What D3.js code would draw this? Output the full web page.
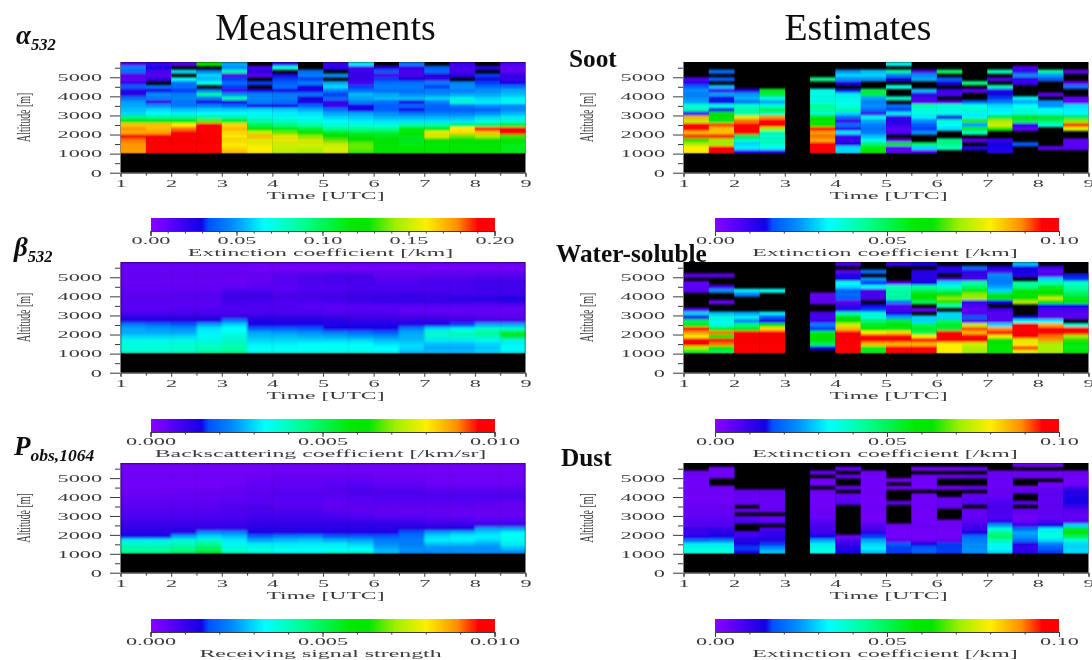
<!DOCTYPE html>
<html><head><meta charset="utf-8">
<style>html,body{margin:0;background:#fff}svg{display:block}text{font-family:"Liberation Serif",serif}</style>
<script src="https://cdn.jsdelivr.net/npm/d3@7"></script></head><body><svg id="c" width="1092" height="660"></svg>
<script>
const _=null;
// Cell values are % of each colour bar's range; null = no data (black). Each list is one half-hour column, top altitude bin first.
const hours=[1,1.5,2,2.5,3,3.5,4,4.5,5,5.5,6,6.5,7,7.5,8,8.5];
const altitudes=[5600,5400,5200,5000,4800,4600,4400,4200,4000,3800,3600,3400,3200,3000,2800,2600,2400,2200,2000,1800,1600,1400,1200,1000];
const alpha532=[
[6,22,20,6,5,10,18,12,12,20,25,26,28,30,46,56,84,88,86,96,90,88,88,87],
[10,14,8,6,10,_,20,14,24,22,10,24,30,33,44,56,84,85,87,96,97,97,97,95],
[6,_,30,_,34,20,20,16,22,23,21,21,28,32,44,56,80,90,96,97,97,97,97,95],
[58,_,22,30,28,34,_,22,42,22,14,22,29,33,42,68,97,97,97,97,97,97,97,97],
[26,24,40,8,16,20,16,10,24,40,14,19,29,33,42,54,82,85,82,80,82,80,82,84],
[_,8,12,6,_,16,_,14,23,23,22,14,30,33,36,42,50,60,75,84,78,78,80,80],
[10,36,_,14,16,18,20,14,22,22,20,14,29,32,34,38,46,56,68,78,78,76,74,74],
[_,_,20,22,16,22,14,14,22,14,14,19,26,31,33,36,42,53,60,70,76,76,74,72],
[10,12,_,24,_,26,30,22,16,20,10,10,20,26,30,33,37,44,55,62,68,74,76,76],
[32,8,10,10,10,8,16,20,28,26,22,13,14,26,29,32,37,44,52,58,60,68,68,66],
[_,12,18,8,16,20,22,20,26,28,20,18,18,24,27,31,36,44,52,56,58,60,60,60],
[22,10,8,8,14,20,22,20,24,28,13,19,14,21,27,31,42,58,58,56,55,56,58,60],
[_,18,20,12,10,22,16,22,24,30,22,19,18,22,27,31,43,55,78,76,60,58,58,58],
[10,8,8,12,_,22,24,22,26,32,38,21,18,22,27,31,48,80,82,68,62,60,60,60],
[_,12,_,16,14,16,20,24,26,30,32,24,18,24,30,36,48,97,84,72,62,60,60,60],
[8,5,5,10,10,14,20,26,28,32,34,23,23,27,32,38,53,97,97,66,58,56,56,56]];
const beta532=[
[4,4,4,4,4,4,5,5,5,6,6,6,6,8,11,13,22,26,26,30,34,36,36,38],
[4,4,4,4,4,4,5,5,5,6,6,6,6,8,11,13,20,25,26,30,34,36,37,38],
[4,4,4,4,4,4,5,5,6,6,6,6,7,8,11,13,18,24,26,30,34,37,38,39],
[4,4,4,4,4,4,5,5,6,6,6,6,7,8,11,13,26,31,32,33,35,38,40,42],
[4,4,4,4,4,4,5,7,9,9,9,7,7,8,11,22,30,33,35,36,38,40,42,44],
[3,3,3,4,4,5,6,7,9,9,8,7,7,8,11,13,14,18,26,28,30,32,34,34],
[3,3,4,6,6,6,6,6,7,7,7,7,7,8,11,13,13,18,25,28,30,32,34,34],
[3,3,4,7,7,7,7,7,8,8,7,6,7,8,11,13,13,17,24,27,30,33,34,34],
[3,3,4,8,8,8,7,8,8,9,8,6,6,7,10,12,13,14,22,26,30,33,35,34],
[3,3,4,8,8,8,8,8,9,10,9,6,6,7,9,11,13,13,20,25,30,33,34,34],
[3,3,4,5,6,7,8,8,9,10,10,6,6,7,9,11,13,13,18,24,28,31,33,33],
[3,3,4,5,6,7,8,8,10,10,10,6,5,6,8,11,13,22,26,27,28,30,30,28],
[3,3,4,5,7,8,8,8,9,10,10,6,5,6,8,11,14,30,38,37,32,28,26,28],
[3,3,4,5,7,8,8,8,9,11,10,6,5,5,7,10,16,32,40,38,32,28,26,28],
[3,3,4,6,8,9,9,9,9,12,10,6,5,5,6,9,26,38,44,40,34,30,28,30],
[3,3,4,6,8,9,9,9,9,13,11,6,4,5,5,9,26,38,55,55,36,32,34,32]];
const pObs1064=[
[3,3,3,3,3,3,3,3,4,5,5,6,6,7,8,9,10,11,12,14,34,38,42,44],
[3,3,3,3,3,3,3,3,4,5,5,6,6,7,8,9,10,11,12,14,34,38,42,44],
[3,3,3,3,3,3,3,4,4,5,5,6,6,7,8,9,10,11,13,26,36,40,44,47],
[3,3,3,3,3,3,3,4,4,5,5,6,6,7,8,9,10,11,24,30,38,44,48,54],
[3,3,3,3,3,4,4,4,5,5,6,6,7,7,8,9,10,11,23,28,32,34,36,40],
[3,3,3,3,4,5,5,5,6,6,6,7,7,8,9,10,11,12,14,19,26,32,36,36],
[3,3,3,4,5,5,5,6,6,6,6,6,7,8,9,10,11,12,13,22,28,32,34,34],
[3,3,3,4,5,5,5,6,6,6,6,6,7,8,9,10,11,12,13,23,29,32,34,34],
[3,3,3,4,5,6,6,6,6,6,5,5,5,7,9,10,11,12,13,18,27,32,34,36],
[3,3,3,4,5,6,7,7,7,6,6,5,5,6,8,10,11,12,13,18,26,30,33,36],
[3,3,3,3,4,5,6,7,7,7,6,5,5,5,7,9,11,12,13,18,22,24,26,28],
[3,3,3,3,4,5,6,7,7,7,6,5,4,5,7,9,11,13,18,20,22,22,24,24],
[3,3,3,3,3,4,5,6,7,7,6,5,4,5,6,8,10,13,26,30,32,28,24,24],
[3,3,3,3,3,4,5,6,7,7,6,5,4,4,6,8,10,14,28,32,32,28,24,24],
[3,3,3,3,3,4,5,6,7,7,6,4,4,4,5,7,10,26,30,32,30,26,24,24],
[3,3,3,3,3,4,5,6,7,7,5,4,4,4,5,7,10,26,33,34,34,32,28,24]];
const soot=[
[_,_,_,_,8,12,18,24,22,24,26,38,40,12,85,75,97,95,85,93,65,72,80,80],
[_,_,20,_,18,_,28,10,26,15,15,36,14,58,58,55,92,85,84,94,72,72,97,97],
[_,_,_,_,_,_,_,12,25,27,22,38,42,42,78,90,97,97,97,50,38,30,32,10],
[_,_,_,_,_,_,_,55,52,36,26,38,50,40,88,97,97,72,40,38,40,38,34,10],
Array(24).fill(_),
[_,_,_,_,45,_,_,34,36,35,36,44,42,38,58,58,60,96,87,90,86,97,97,97],
[_,_,24,30,24,12,_,15,32,35,34,36,42,30,20,10,20,12,32,10,10,12,30,30],
[_,_,28,30,24,_,_,50,52,26,22,24,20,10,34,26,22,20,22,28,34,48,58,60],
[32,_,42,22,14,_,36,_,_,38,_,20,16,32,10,12,10,6,8,_,6,60,6,5],
[_,_,8,24,26,_,_,28,10,8,6,42,36,35,32,24,18,16,24,_,_,50,30,6],
[_,_,48,_,18,14,_,10,8,_,6,38,36,35,14,36,34,30,_,_,45,45,40,_],
[_,_,_,_,_,45,_,6,_,_,18,36,38,32,35,65,25,55,40,_,6,_,12,_],
[_,_,40,_,8,_,40,12,14,16,22,30,32,34,52,72,76,60,_,_,10,14,14,12],
[_,8,10,24,10,10,_,_,_,32,26,34,36,38,60,50,10,6,_,_,_,18,_,_],
[_,_,42,25,18,_,_,_,6,_,24,24,34,36,55,48,38,_,_,_,_,_,6,_],
[_,_,5,_,_,5,20,_,_,5,5,30,32,34,50,70,93,76,_,_,5,6,6,_]];
const waterSoluble=[
[_,_,_,5,_,5,6,6,_,_,_,_,6,30,12,50,55,97,88,80,95,96,72,55],
[_,_,_,5,_,_,8,24,_,_,4,_,_,28,36,34,36,55,90,60,94,90,60,50],
[_,_,_,_,_,_,_,32,22,_,_,_,_,26,32,24,46,55,97,97,97,97,97,97],
[_,_,_,_,_,_,_,34,_,_,_,_,_,32,18,14,60,82,97,97,97,97,97,97],
Array(24).fill(_),
[_,_,_,_,_,_,_,_,4,5,5,_,_,8,8,10,22,16,55,60,60,50,14,_],
[8,_,5,14,12,34,30,18,20,18,6,10,12,40,58,62,75,85,97,97,97,97,97,97],
[_,_,20,_,24,16,34,8,8,8,_,14,16,36,36,48,55,58,80,97,97,85,55,55],
[10,_,_,_,_,5,40,42,42,42,22,8,8,14,26,52,60,56,82,97,97,85,97,97],
[14,_,12,12,12,14,42,50,58,60,50,_,5,_,30,30,50,55,50,80,95,85,97,97],
[_,12,12,_,8,30,38,48,62,70,65,42,_,30,30,48,55,52,97,97,97,80,80,80],
[_,20,10,10,8,42,48,55,70,72,10,8,5,8,18,8,75,92,85,96,96,76,72,72],
[_,14,8,24,22,22,25,30,55,58,14,_,10,6,6,6,30,88,97,80,60,60,58,58],
[28,14,14,12,_,42,45,58,58,62,72,_,_,_,14,34,97,97,97,97,78,80,92,78],
[_,10,5,8,30,42,55,60,62,75,58,14,8,6,6,32,86,97,97,90,87,72,72,72],
[_,_,_,15,16,38,42,45,50,55,60,14,8,6,6,_,36,97,97,72,65,58,55,60]];
const dust=[
[_,_,3,3,3,3,3,3,3,3,4,4,4,4,6,6,6,10,10,12,20,32,36,36],
[_,3,3,3,_,_,3,3,3,3,4,4,4,4,6,6,6,10,12,14,22,32,36,36],
[_,_,_,_,_,_,_,4,4,4,4,_,4,_,6,8,_,_,8,10,12,14,16,14],
[_,_,_,_,_,_,_,4,4,4,4,4,4,_,4,6,_,8,10,12,12,16,24,28],
Array(24).fill(_),
[_,_,4,_,3,3,_,3,3,3,3,3,3,4,4,6,8,8,10,14,26,32,36,34],
[_,4,_,4,_,_,4,_,4,5,6,_,_,_,_,_,_,_,_,3,8,10,12,14],
[_,_,3,3,3,3,3,3,3,3,3,3,3,3,3,3,6,8,12,16,26,30,32,28],
[_,_,_,_,3,_,3,_,_,_,5,_,_,_,_,_,3,3,3,3,5,18,16,16],
[_,3,_,3,3,3,3,_,3,3,3,3,3,3,3,3,3,3,3,3,4,14,18,18],
[_,3,_,3,_,_,3,_,_,4,5,4,_,_,_,3,3,3,3,3,5,16,16,16],
[_,4,_,4,_,_,4,_,4,6,6,_,4,4,5,6,8,10,14,20,22,24,24,24],
[_,_,3,4,4,4,4,4,4,6,7,8,7,7,7,12,25,36,45,48,40,34,34,30],
[3,_,3,3,_,_,3,5,_,_,6,_,5,4,3,5,10,20,26,24,20,12,10,12],
[3,_,3,3,_,3,4,5,5,5,5,5,5,5,5,8,14,32,36,36,30,22,18,16],
[_,_,3,3,3,3,8,12,12,14,14,10,6,5,5,7,30,55,58,50,36,30,30,30]];
const cbTicksA=[0,0.05,0.10,0.15,0.20], cbTicksB=[0,0.005,0.010], cbTicksC=[0,0.05,0.10];
const xTicks=[1,2,3,4,5,6,7,8,9], yTicks=[0,1000,2000,3000,4000,5000];
const colourStops=[[0,"#8a00ff"],[14.5,"#1200e6"],[16.5,"#0050ff"],[24,"#0090ff"],[33,"#00ffff"],[43,"#00ff9c"],[58,"#00ea00"],[63,"#00e600"],[71,"#a0f000"],[80,"#ffee00"],[89,"#ff8c00"],[95,"#ff0000"],[100,"#ff0000"]];
const colour=d3.scaleLinear().domain(colourStops.map(d=>d[0])).range(colourStops.map(d=>d[1])).clamp(true);

const svg=d3.select("#c");
const defs=svg.append("defs");
function blur(id,dev){defs.append("filter").attr("id",id).attr("filterUnits","userSpaceOnUse").attr("x",0).attr("y",0).attr("width",1092).attr("height",660)
 .append("feGaussianBlur").attr("stdDeviation",dev);}
blur("soft","0.55");blur("cellBlur","0.3 0.8");blur("smooth","0.9 1.6");
const root=svg.append("g").attr("filter","url(#soft)");
const ink="#3a3a3a", SX=2.12, FS=10.5;
function stretch(sel,dx,dy,anchor){sel.attr("transform",`translate(${dx},${dy}) scale(${SX},1)`).attr("x",0).attr("y",0).attr("dy",".32em").attr("text-anchor",anchor).attr("font-size",FS).attr("fill",ink).attr("font-family","Liberation Serif")}
function panel(vals,px,top,bottom,filterId){
 const g=root.append("g");
 const x=d3.scaleLinear().domain([1,9]).range([px,px+405]);
 const y=d3.scaleLinear().domain([0,5800]).range([bottom,top]);
 g.append("rect").attr("x",x(1)).attr("y",y(5800)).attr("width",x(9)-x(1)).attr("height",y(0)-y(5800)).attr("fill","#000");
 const cells=[];vals.forEach((col,c)=>col.forEach((v,r)=>{if(v!==_)cells.push({t:hours[c],a:altitudes[r],v})}));
 const clipId="clip"+px+"_"+top;
 defs.append("clipPath").attr("id",clipId).append("rect").attr("x",x(1)).attr("y",y(5800)).attr("width",x(9)-x(1)).attr("height",y(1000)-y(5800));
 g.append("g").attr("clip-path",`url(#${clipId})`).append("g").attr("filter",`url(#${filterId})`)
  .selectAll("rect").data(cells).join("rect")
  .attr("x",d=>x(d.t)).attr("y",d=>y(d.a+200)).attr("width",d=>x(d.t+.5)-x(d.t)+.3).attr("height",d=>y(d.a)-y(d.a+200)+.3).attr("fill",d=>colour(d.v));
 const yg=g.append("g").attr("transform",`translate(${px-.5},0)`).call(d3.axisLeft(y).tickValues(yTicks).tickSize(10).tickFormat(d3.format("d")));
 yg.select(".domain").remove();yg.selectAll("line").attr("stroke",ink);
 stretch(yg.selectAll("text"),-18,0,"end");
 g.append("g").attr("transform",`translate(${px-.5},0)`).call(d3.axisLeft(y).tickValues(d3.range(500,5800,1000)).tickSize(5).tickFormat("")).call(s=>{s.select(".domain").remove();s.selectAll("line").attr("stroke",ink)});
 const xg=g.append("g").attr("transform",`translate(0,${bottom})`).call(d3.axisBottom(x).tickValues(xTicks).tickSize(4).tickFormat(d3.format("d")));
 xg.select(".domain").attr("stroke",ink);xg.selectAll("line").attr("stroke",ink);
 stretch(xg.selectAll("text"),0,10.5,"middle");
 g.append("g").attr("transform",`translate(0,${bottom})`).call(d3.axisBottom(x).tickValues(d3.range(1.5,9,1)).tickSize(3).tickFormat("")).call(s=>{s.select(".domain").remove();s.selectAll("line").attr("stroke",ink)});
 g.append("text").attr("transform",`translate(${px+205},${bottom+22.5}) scale(2.15,1)`).attr("text-anchor","middle").attr("dy",".32em").attr("font-size",FS+.5).attr("fill",ink).text("Time [UTC]");
 g.append("text").attr("transform",`translate(${px-97},${(top+bottom)/2}) rotate(-90) scale(0.52,1)`).attr("text-anchor","middle").attr("dy",".32em").attr("font-size",19).attr("fill",ink).text("Altitude [m]");
}
function colourBar(px,top,domain,ticks,fmt,minorN,title){
 const g=root.append("g");
 const x=d3.scaleLinear().domain(domain).range([px,px+344]);
 const toPct=d3.scaleLinear().domain([px,px+344]).range([0,100]);
 g.selectAll("rect").data(d3.range(px,px+344,1)).join("rect").attr("x",d=>d).attr("y",top).attr("width",1).attr("height",13).attr("shape-rendering","crispEdges").attr("fill",d=>colour(toPct(d)));
 const ax=g.append("g").attr("transform",`translate(0,${top+13})`).call(d3.axisBottom(x).tickValues(ticks).tickSize(5).tickFormat(d3.format(fmt)));
 ax.select(".domain").attr("stroke",ink);ax.selectAll("line").attr("stroke",ink);
 stretch(ax.selectAll("text"),0,9.5,"middle");
 g.append("g").attr("transform",`translate(0,${top+13})`).call(d3.axisBottom(x).tickValues(d3.range(minorN+1).map(i=>domain[1]*i/minorN)).tickSize(2.5).tickFormat("")).call(s=>{s.select(".domain").remove();s.selectAll("line").attr("stroke",ink)});
 g.append("text").attr("transform",`translate(${px+170},${top+35}) scale(2.27,1)`).attr("text-anchor","middle").attr("dy",".32em").attr("font-size",FS).attr("fill",ink).text(title);
}
const LX=120.5, RX=683.5, LB=150.5, RB=715;
panel(alpha532,LX,62,172.7,"cellBlur");panel(beta532,LX,262,372.7,"smooth");panel(pObs1064,LX,463,572.7,"smooth");
panel(soot,RX,62,172.7,"cellBlur");panel(waterSoluble,RX,262,372.7,"cellBlur");panel(dust,RX,463,572.7,"cellBlur");
colourBar(LB,218,[0,.2],cbTicksA,".2f",20,"Extinction coefficient [/km]");
colourBar(LB,419,[0,.01],cbTicksB,".3f",10,"Backscattering coefficient [/km/sr]");
colourBar(LB,619,[0,.01],cbTicksB,".3f",10,"Receiving signal strength");
colourBar(RB,218,[0,.1],cbTicksC,".2f",10,"Extinction coefficient [/km]");
colourBar(RB,419,[0,.1],cbTicksC,".2f",10,"Extinction coefficient [/km]");
colourBar(RB,619,[0,.1],cbTicksC,".2f",10,"Extinction coefficient [/km]");
const T=root.append("g").attr("fill","#111");
T.append("text").attr("x",325.5).attr("y",40).attr("text-anchor","middle").attr("font-size",37.8).text("Measurements");
T.append("text").attr("x",858).attr("y",40).attr("text-anchor","middle").attr("font-size",37.8).text("Estimates");
function sym(x,y,main,sub,size,subSize){const t=T.append("text").attr("x",x).attr("y",y).attr("font-style","italic").attr("font-weight","bold").attr("font-size",size).text(main);
 t.append("tspan").attr("dy",6).attr("font-size",subSize).text(sub);}
sym(16,44,"α","532",27,16.5);sym(14,256,"β","532",27,16.5);sym(14,455,"P","obs,1064",27,17.5);
[["Soot",569,67],["Water-soluble",556,262],["Dust",561,466]].forEach(d=>T.append("text").attr("x",d[1]).attr("y",d[2]).attr("font-weight","bold").attr("font-size",25.3).text(d[0]));
</script></body></html>
